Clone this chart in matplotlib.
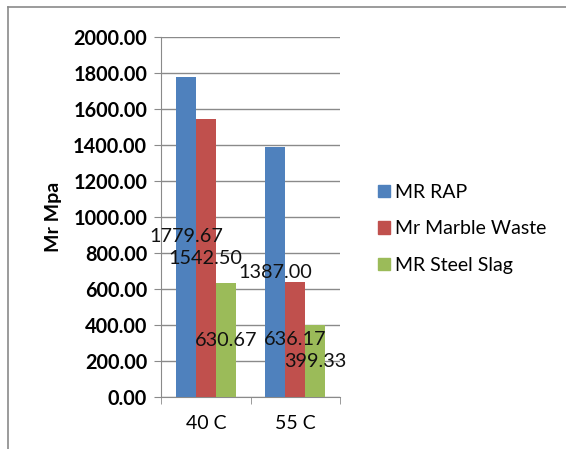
import matplotlib
matplotlib.use("Agg")
import matplotlib.pyplot as plt
import numpy as np
from matplotlib.patches import Patch
from matplotlib.lines import Line2D

plt.rcParams['font.family'] = ['Lato', 'DejaVu Sans']

# modulus of resilience values
temps = ["40 C", "55 C"]
mr_rap = [1779.67, 1387.00]
mr_marble = [1542.50, 636.17]
mr_slag = [630.67, 399.33]
series_names = ["MR RAP", "Mr Marble Waste", "MR Steel Slag"]
colors = ["#4F81BD", "#C0504D", "#9BBB59"]

fig = plt.figure(figsize=(5.66, 4.49), dpi=100)
ax = fig.add_axes([0.2845, 0.1158, 0.3163, 0.8018])

x = np.arange(len(temps))
w = 0.222
for i, vals in enumerate([mr_rap, mr_marble, mr_slag]):
    pos = x + (i - 1) * w
    ax.bar(pos, vals, w, color=colors[i], zorder=3)
    # value labels sit at half bar height
    for p, v in zip(pos, vals):
        ax.text(p, v / 2, "%.2f" % v, ha="center", va="center",
                fontsize=14.3, color="#111111", zorder=5)

ax.set_ylim(0, 2000)
ax.set_xlim(-0.5, 1.5)
ax.set_yticks(np.arange(0, 2001, 200))
ax.set_yticklabels(["%.2f" % t for t in np.arange(0, 2001, 200)],
                   fontweight="bold", fontsize=14.3)
ax.yaxis.grid(True, color="#8a8a8a", linewidth=1, zorder=0)
ax.set_axisbelow(True)

ax.set_xticks(x)
ax.set_xticklabels(temps, fontsize=14)
ax.set_xticks([-0.5, 0.5, 1.5], minor=True)
ax.tick_params(axis="x", which="major", length=0, pad=13)
ax.tick_params(axis="x", which="minor", length=5, color="#8a8a8a")
ax.tick_params(axis="y", length=5, color="#8a8a8a", pad=5)

for s in ["top", "right"]:
    ax.spines[s].set_visible(False)
for s in ["left", "bottom"]:
    ax.spines[s].set_color("#8a8a8a")

# y axis title, placed close to the tick labels
fig.text(0.095, 0.5167, "Mr Mpa", rotation=90, ha="center", va="center",
         fontweight="bold", fontsize=14)

handles = [Patch(color=c) for c in colors]
fig.legend(handles, series_names, loc="center left",
           bbox_to_anchor=(0.637, 0.49), frameon=False, fontsize=14,
           handlelength=0.6, handleheight=0.6, handletextpad=0.25,
           labelspacing=1.0)

# outer frame lines (top and left)
fig.add_artist(Line2D([0.014, 1.0], [0.984, 0.984], color="#8a8a8a",
                      linewidth=1.2, transform=fig.transFigure))
fig.add_artist(Line2D([0.014, 0.014], [0.0, 0.984], color="#8a8a8a",
                      linewidth=1.2, transform=fig.transFigure))

fig.savefig("out.png", dpi=100)
